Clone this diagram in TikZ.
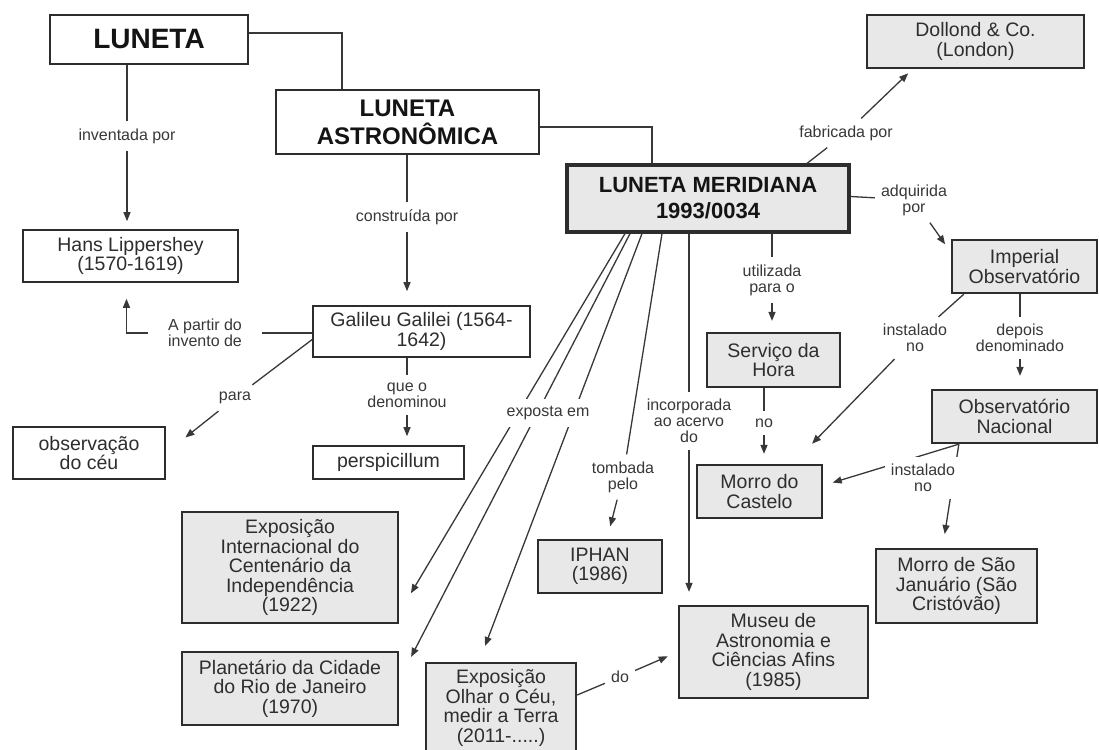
\documentclass[tikz,border=0pt]{standalone}
\usepackage{fontspec}
\setmainfont{Liberation Sans}
\usetikzlibrary{arrows.meta}
\definecolor{cmapgray}{RGB}{232,232,232}
\definecolor{cmapline}{RGB}{45,45,45}
\tikzset{
  cmap/.style = {rectangle, align=center, inner sep=0pt, text=black!82,
    font=\fontsize{19.5}{19.5}\selectfont},
  cmap_w/.style = {cmap, draw=cmapline, fill=white, line width=1.6pt},% concept, white
  cmap_g/.style = {cmap, draw=cmapline, fill=cmapgray, line width=2.3pt},% concept, gray
  cmap_big/.style 2 args = {text=black!92, font=\fontsize{#1}{#2}\selectfont\bfseries},
  cmap_l/.style = {align=center, fill=white, inner xsep=6pt, inner ysep=7pt,
    text=black!78, font=\fontsize{16}{16}\selectfont},% linking phrase
  cmap_e/.style = {draw=black!78, line width=1.3pt},
  cmap_a/.style = {cmap_e, ->, shorten >=11pt},
}

\begin{document}
\begin{tikzpicture}[x=1pt,y=-1pt,>={Triangle[length=9pt,width=7pt]}]
  \fill[white] (0,0) rectangle (1099,749);
  \useasboundingbox (0,0) rectangle (1099,749);

  % concepts
  \node[cmap_w, cmap_big={28}{30}, minimum width=198pt, minimum height=49pt] (luneta) at (149,39.5) {LUNETA};
  \node[cmap_w, cmap_big={24}{28}, minimum width=263pt, minimum height=64pt] (astro) at (407.5,122) {LUNETA\\ASTRONÔMICA};
  \node[cmap_g, cmap_big={22}{26}, line width=3.2pt, minimum width=282pt, minimum height=67pt] (meri) at (708,198.5) {LUNETA MERIDIANA\\1993/0034};
  \node[cmap_g, minimum width=217pt, minimum height=53pt] (dollond) at (975.5,41.5) {Dollond \& Co.\\(London)};
  \node[cmap_w, minimum width=215pt, minimum height=52pt] (hans) at (130.5,256) {Hans Lippershey\\(1570-1619)};
  \node[cmap_w, minimum width=217pt, minimum height=51pt] (galileu) at (421.5,331.5) {Galileu Galilei (1564-\\1642)};
  \node[cmap_w, minimum width=152pt, minimum height=52pt] (ceu) at (89,453) {observação\\do céu};
  \node[cmap_w, minimum width=151pt, minimum height=33pt] (persp) at (388.5,462.5) {perspicillum};
  \node[cmap_g, minimum width=216pt, minimum height=111pt] (expint) at (290,567.5) {Exposição\\Internacional do\\Centenário da\\Independência\\(1922)};
  \node[cmap_g, minimum width=216pt, minimum height=73pt] (planet) at (290,688.5) {Planetário da Cidade\\do Rio de Janeiro\\(1970)};
  \node[cmap_g, minimum width=150pt, minimum height=90pt] (olhar) at (501,708) {Exposição\\Olhar o Céu,\\medir a Terra\\(2011-.....)};
  \node[cmap_g, minimum width=124pt, minimum height=53pt] (iphan) at (600,566.5) {IPHAN\\(1986)};
  \node[cmap_g, minimum width=189pt, minimum height=92pt] (museu) at (773.5,652) {Museu de\\Astronomia e\\Ciências Afins\\(1985)};
  \node[cmap_g, minimum width=133pt, minimum height=54pt] (servico) at (773.5,360) {Serviço da\\Hora};
  \node[cmap_g, minimum width=125pt, minimum height=53pt] (morro) at (759.5,491.5) {Morro do\\Castelo};
  \node[cmap_g, minimum width=145pt, minimum height=53pt] (imperial) at (1024.5,266.5) {Imperial\\Observatório};
  \node[cmap_g, minimum width=165pt, minimum height=53pt] (onac) at (1014.5,416.5) {Observatório\\Nacional};
  \node[cmap_g, minimum width=161pt, minimum height=74pt] (saojan) at (956.5,586) {Morro de São\\Januário (São\\Cristóvão)};

  % linking phrases
  \node[cmap_l] (l_inv) at (127,136) {inventada por};
  \node[cmap_l] (l_constr) at (407,217) {construída por};
  \node[cmap_l, inner xsep=20pt] (l_apartir) at (205,333) {A partir do\\invento de};
  \node[cmap_l] (l_para) at (235,398) {para};
  \node[cmap_l] (l_que) at (407,395) {que o\\denominou};
  \node[cmap_l] (l_fab) at (846,133) {fabricada por};
  \node[cmap_l] (l_adq) at (914,200) {adquirida\\por};
  \node[cmap_l] (l_util) at (772,280) {utilizada\\para o};
  \node[cmap_l] (l_no) at (764,423) {no};
  \node[cmap_l] (l_inc) at (689,421) {incorporada\\ao acervo\\do};
  \node[cmap_l] (l_tomb) at (623,477) {tombada\\pelo};
  \node[cmap_l] (l_inst1) at (915,338) {instalado\\no};
  \node[cmap_l] (l_dep) at (1020,338) {depois\\denominado};
  \node[cmap_l] (l_do) at (620,677) {do};

  % links
  \draw[cmap_e] ([yshift=6.5pt]luneta.east) -| ([xshift=-65.5pt]astro.north);
  \draw[cmap_e] ([yshift=-5pt]astro.east) -| ([xshift=-56pt]meri.north);
  \draw[cmap_e] (luneta.south -| l_inv) -- (l_inv);
  \draw[cmap_a, shorten >=8pt] (l_inv) -- (hans.north -| l_inv);
  \draw[cmap_e] (astro.south -| l_constr) -- (l_constr);
  \draw[cmap_a, shorten >=14pt] (l_constr) -- (galileu.north -| l_constr);
  \draw[cmap_e] (galileu.west |- l_apartir) -- (l_apartir);
  \draw[cmap_a, shorten >=16pt] (l_apartir) -| ([xshift=-4pt]hans.south);
  \draw[cmap_e] ([yshift=-8pt]galileu.west) -- (l_para);
  \draw[cmap_a, shorten >=25pt] (l_para) -- (ceu.east);
  \draw[cmap_e] (galileu.south -| l_que) -- (l_que);
  \draw[cmap_a, shorten >=9pt] (l_que) -- (persp.north -| l_que);
  \draw[cmap_e] ([xshift=99pt]meri.north) -- (l_fab);
  \draw[cmap_a, shorten >=6pt] (l_fab) -- ([xshift=-63pt]dollond.south);
  \draw[cmap_e] ([yshift=2pt]meri.east) -- (l_adq);
  \draw[cmap_a, shorten >=10pt] (l_adq) -- ([yshift=14pt]imperial.west);
  \draw[cmap_e] (meri.south -| l_util) -- (l_util);
  \draw[cmap_a] (l_util) -- (servico.north -| l_util);
  \draw[cmap_e] (servico.south -| l_no) -- (l_no);
  \draw[cmap_a, shorten >=10pt] (l_no) -- (morro.north -| l_no);
  \draw[cmap_e] (meri.south -| l_inc) -- (l_inc);
  \draw[cmap_a, shorten >=13pt] (l_inc) -- (museu.north -| l_inc);
  \draw[cmap_e] ([xshift=-46pt]meri.south) -- (l_tomb);
  \draw[cmap_a, shorten >=13pt] (l_tomb) -- ([xshift=7pt]iphan.north);
  \draw[cmap_e] ([xshift=13pt]imperial.south west) -- (l_inst1);
  \draw[cmap_a, shorten >=28pt] (l_inst1) -- ([xshift=33pt]morro.north);
  \draw[cmap_e] (imperial.south -| l_dep) -- (l_dep);
  \draw[cmap_a, shorten >=13pt] (l_dep) -- (onac.north -| l_dep);
  \draw[cmap_e] ([yshift=13pt]olhar.east) -- (l_do);
  \draw[cmap_a] (l_do) -- (museu.west);

  % exposta em
  \draw[cmap_a, shorten >=23pt] ([xshift=-83pt]meri.south) -- ([yshift=-45.5pt]expint.east);
  \draw[cmap_a, shorten >=26pt] ([xshift=-78pt]meri.south) -- ([yshift=8.5pt]planet.east);
  \draw[cmap_a, shorten >=17pt] ([xshift=-66pt]meri.south) -- ([xshift=-22pt]olhar.north);
  \node[cmap_l] (l_exp) at (548,413) {exposta em};

  % instalado no (Observatorio Nacional)
  \draw[cmap_a, shorten >=10pt] ([xshift=28pt]onac.south west) -- ([yshift=6pt]morro.east);
  \draw[cmap_a, shorten >=14pt] ([xshift=28pt]onac.south west) -- ([xshift=-14pt]saojan.north);
  \node[cmap_l] (l_inst2) at (923,478) {instalado\\no};
\end{tikzpicture}
\end{document}
